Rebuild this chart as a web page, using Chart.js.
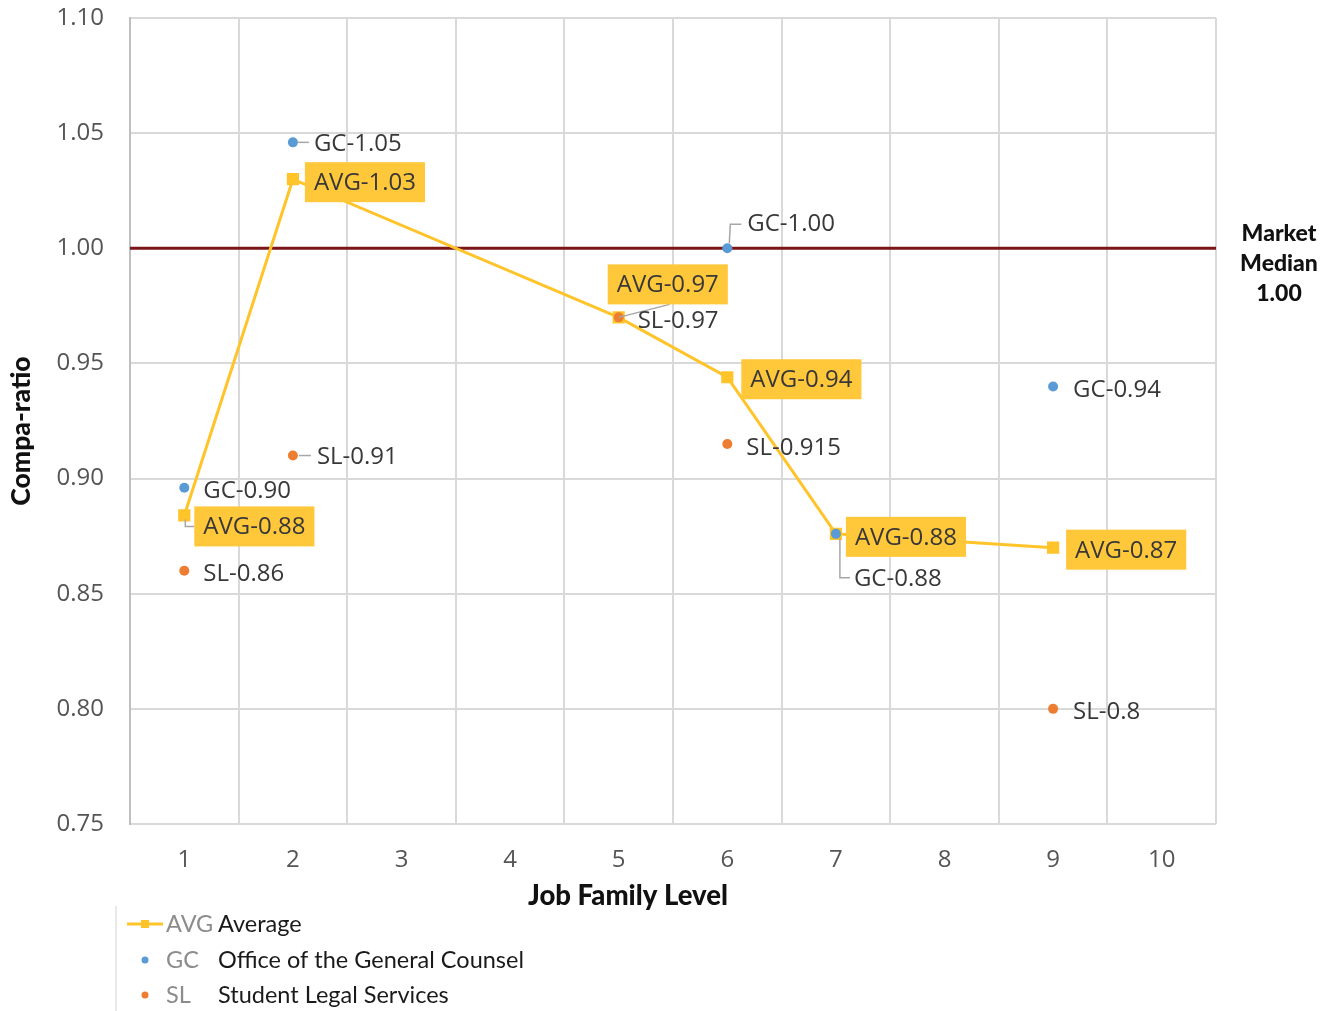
<!DOCTYPE html>
<html>
<head>
<meta charset="utf-8">
<title>Compa-ratio by Job Family Level</title>
<script src="https://cdn.jsdelivr.net/npm/chart.js@4.4.1/dist/chart.umd.min.js"></script>
<style>
  html, body { margin: 0; padding: 0; background: #ffffff; }
  canvas { display: block; }
</style>
</head>
<body>
<canvas id="chart" width="1335" height="1011"></canvas>
<script>
// Job family levels shown on the x axis
const levels = ['1', '2', '3', '4', '5', '6', '7', '8', '9', '10'];

// Average compa-ratio (AVG)
const avgLevels = ['1', '2', '5', '6', '7', '9'];
const avgValues = [0.884, 1.030, 0.970, 0.944, 0.876, 0.870];

// Office of the General Counsel (GC)
const gcLevels = ['1', '2', '6', '7', '9'];
const gcValues = [0.896, 1.046, 1.000, 0.876, 0.940];

// Student Legal Services (SL)
const slLevels = ['1', '2', '5', '6', '9'];
const slValues = [0.86, 0.91, 0.97, 0.915, 0.8];

// Y axis ticks and the market reference
const yTicks = [0.75, 0.80, 0.85, 0.90, 0.95, 1.00, 1.05, 1.10];
const marketMedian = 1.00;

const COLORS = {
  avg: '#FFC42A',
  avgBox: '#FFC73A',
  gc: '#5B9BD5',
  sl: '#ED7D31',
  median: '#7B1518',
  grid: '#D9D9D9',
  tick: '#555555',
  label: '#383838',
  leader: '#A6A6A6'
};

const SANS = '"Open Sans", "Noto Sans", sans-serif';
const GEO = 'Lato, "Noto Sans", sans-serif';
const LABEL_FONT = '24px ' + SANS;
const LEGEND_FONT = '23.5px ' + GEO;

// Where each data label sits relative to its point (offsets in px), plus optional leader lines
const labelLayout = {
  avg: [
    { dx: 10, dy: 11, leader: [[1, 4], [1, 11], [10, 11]] },
    { dx: 12, dy: 3 },
    { dx: -11, dy: -33 },
    { dx: 14, dy: 2 },
    { dx: 10, dy: 3 },
    { dx: 13, dy: 2 }
  ],
  gc: [
    { dx: 19, dy: 2 },
    { dx: 21, dy: 1, leader: [[5, 0], [16, 0]] },
    { dx: 20, dy: -25, leader: [[2, -5], [3, -24], [14, -24]] },
    { dx: 18, dy: 44, leader: [[4, 5], [4, 44], [14, 44]] },
    { dx: 20, dy: 3 }
  ],
  sl: [
    { dx: 19, dy: 2 },
    { dx: 24, dy: 1, leader: [[6, 0], [18, 0]] },
    { dx: 19, dy: 3, leader: [[0, 0], [51, -13]] },
    { dx: 19, dy: 3 },
    { dx: 20, dy: 2 }
  ]
};

const toPoints = (xs, ys) => xs.map((x, i) => ({ x: x, y: ys[i] }));

function drawLeader(ctx, p, leader) {
  if (!leader) return;
  ctx.save();
  ctx.strokeStyle = COLORS.leader;
  ctx.lineWidth = 1.5;
  ctx.beginPath();
  leader.forEach((o, k) => {
    const x = p.x + o[0], y = p.y + o[1];
    if (k === 0) ctx.moveTo(x, y); else ctx.lineTo(x, y);
  });
  ctx.stroke();
  ctx.restore();
}

// Market median reference line, drawn beneath the data
const medianLine = {
  id: 'medianLine',
  beforeDatasetsDraw(chart) {
    const { ctx, chartArea, scales } = chart;
    const y = scales.y.getPixelForValue(marketMedian);
    ctx.save();
    ctx.strokeStyle = COLORS.median;
    ctx.lineWidth = 3;
    ctx.beginPath();
    ctx.moveTo(chartArea.left, y);
    ctx.lineTo(chartArea.right, y);
    ctx.stroke();
    ctx.restore();
  }
};

// Data labels with leader lines; AVG labels get a filled box
const dataLabels = {
  id: 'dataLabels',
  afterDatasetsDraw(chart) {
    const ctx = chart.ctx;
    ctx.save();
    ctx.font = LABEL_FONT;
    ctx.textBaseline = 'middle';
    ctx.textAlign = 'left';

    const series = [
      { key: 'gc', idx: 1, prefix: 'GC-', values: gcValues, fmt: v => v.toFixed(2) },
      { key: 'sl', idx: 2, prefix: 'SL-', values: slValues, fmt: v => String(v) },
      { key: 'avg', idx: 0, prefix: 'AVG-', values: avgValues, fmt: v => v.toFixed(2), boxed: true }
    ];

    series.forEach(s => {
      const meta = chart.getDatasetMeta(s.idx);
      s.values.forEach((v, i) => {
        const el = meta.data[i];
        const p = { x: el.x, y: el.y };
        const lay = labelLayout[s.key][i];
        drawLeader(ctx, p, lay.leader);
        const text = s.prefix + s.fmt(v);
        const tx = p.x + lay.dx, ty = p.y + lay.dy;
        if (s.boxed) {
          const w = ctx.measureText(text).width + 18;
          ctx.fillStyle = COLORS.avgBox;
          ctx.fillRect(tx, ty - 20, w, 40);
          ctx.fillStyle = COLORS.label;
          ctx.fillText(text, tx + 9, ty + 1);
        } else {
          ctx.fillStyle = COLORS.label;
          ctx.fillText(text, tx, ty + 1);
        }
      });
    });
    ctx.restore();
  }
};

// Axis titles, market median caption and the key below the chart
const annotations = {
  id: 'annotations',
  afterDraw(chart) {
    const { ctx, scales } = chart;
    ctx.save();
    ctx.fillStyle = '#111111';
    ctx.font = '900 27.5px ' + GEO;
    ctx.textAlign = 'center';
    ctx.textBaseline = 'middle';
    ctx.fillText('Job Family Level', 628, 896);

    ctx.save();
    ctx.translate(21, 431);
    ctx.rotate(-Math.PI / 2);
    ctx.font = '900 26.5px ' + GEO;
    ctx.fillText('Compa-ratio', 0, 0);
    ctx.restore();

    // Market median caption
    const my = scales.y.getPixelForValue(marketMedian);
    ctx.font = '900 23px ' + GEO;
    ctx.fillText('Market', 1279, my - 15);
    ctx.fillText('Median', 1279, my + 15);
    ctx.fillText(marketMedian.toFixed(2), 1279, my + 45);

    // Key
    ctx.strokeStyle = '#E0E0E0';
    ctx.lineWidth = 1.5;
    ctx.beginPath();
    ctx.moveTo(116, 906);
    ctx.lineTo(116, 1011);
    ctx.stroke();

    const rows = [
      { abbr: 'AVG', name: 'Average', y: 924, kind: 'line', color: COLORS.avg },
      { abbr: 'GC', name: 'Office of the General Counsel', y: 960, kind: 'dot', color: COLORS.gc },
      { abbr: 'SL', name: 'Student Legal Services', y: 995, kind: 'dot', color: COLORS.sl }
    ];
    ctx.textAlign = 'left';
    rows.forEach(r => {
      ctx.fillStyle = r.color;
      if (r.kind === 'line') {
        ctx.strokeStyle = r.color;
        ctx.lineWidth = 3;
        ctx.beginPath();
        ctx.moveTo(127, r.y);
        ctx.lineTo(163, r.y);
        ctx.stroke();
        ctx.fillRect(141, r.y - 4, 8, 8);
      } else {
        ctx.beginPath();
        ctx.arc(145, r.y, 3.5, 0, Math.PI * 2);
        ctx.fill();
      }
      ctx.font = LEGEND_FONT;
      ctx.fillStyle = '#8C8C8C';
      ctx.fillText(r.abbr, 166, r.y);
      ctx.fillStyle = '#1A1A1A';
      ctx.fillText(r.name, 218, r.y);
    });
    ctx.restore();
  }
};

function buildChart() {
  new Chart(document.getElementById('chart'), {
    type: 'line',
    data: {
      labels: levels,
      datasets: [
        {
          label: 'Average',
          data: toPoints(avgLevels, avgValues),
          borderColor: COLORS.avg,
          backgroundColor: COLORS.avg,
          borderWidth: 3,
          pointStyle: 'rect',
          pointRadius: 6.5,
          pointHoverRadius: 6.5,
          tension: 0,
          order: 3
        },
        {
          label: 'Office of the General Counsel',
          data: toPoints(gcLevels, gcValues),
          showLine: false,
          borderColor: COLORS.gc,
          backgroundColor: COLORS.gc,
          pointRadius: 5,
          pointBorderWidth: 0,
          order: 1
        },
        {
          label: 'Student Legal Services',
          data: toPoints(slLevels, slValues),
          showLine: false,
          borderColor: COLORS.sl,
          backgroundColor: COLORS.sl,
          pointRadius: 5,
          pointBorderWidth: 0,
          order: 2
        }
      ]
    },
    options: {
      responsive: false,
      devicePixelRatio: 1,
      animation: false,
      layout: { padding: { top: 18, right: 119, bottom: 97, left: 0 } },
      plugins: {
        legend: { display: false },
        tooltip: { enabled: false },
        title: { display: false }
      },
      scales: {
        x: {
          type: 'category',
          offset: true,
          grid: { offset: true, color: COLORS.grid, lineWidth: 2, drawTicks: false },
          border: { display: false },
          ticks: { color: COLORS.tick, font: { family: SANS, size: 24 }, padding: 22 },
          afterFit(scale) { scale.height = 90; scale.paddingLeft = 0; scale.paddingRight = 0; }
        },
        y: {
          min: yTicks[0],
          max: yTicks[yTicks.length - 1],
          afterBuildTicks(scale) { scale.ticks = yTicks.map(v => ({ value: v })); },
          grid: { color: COLORS.grid, lineWidth: 2, drawTicks: false },
          border: { color: '#BFBFBF', width: 2 },
          ticks: {
            color: COLORS.tick,
            font: { family: SANS, size: 24 },
            padding: 26,
            callback: v => Number(v).toFixed(2)
          },
          afterFit(scale) { scale.width = 130; scale.paddingTop = 0; scale.paddingBottom = 0; }
        }
      }
    },
    plugins: [medianLine, dataLabels, annotations]
  });
}

const fontLoads = [
  '24px "Open Sans"', '24px "Noto Sans"', '23px Lato', '900 26px Lato', 'bold 26px Lato'
].map(f => document.fonts.load(f).catch(() => null));
Promise.all(fontLoads).then(buildChart, buildChart);
</script>
</body>
</html>
